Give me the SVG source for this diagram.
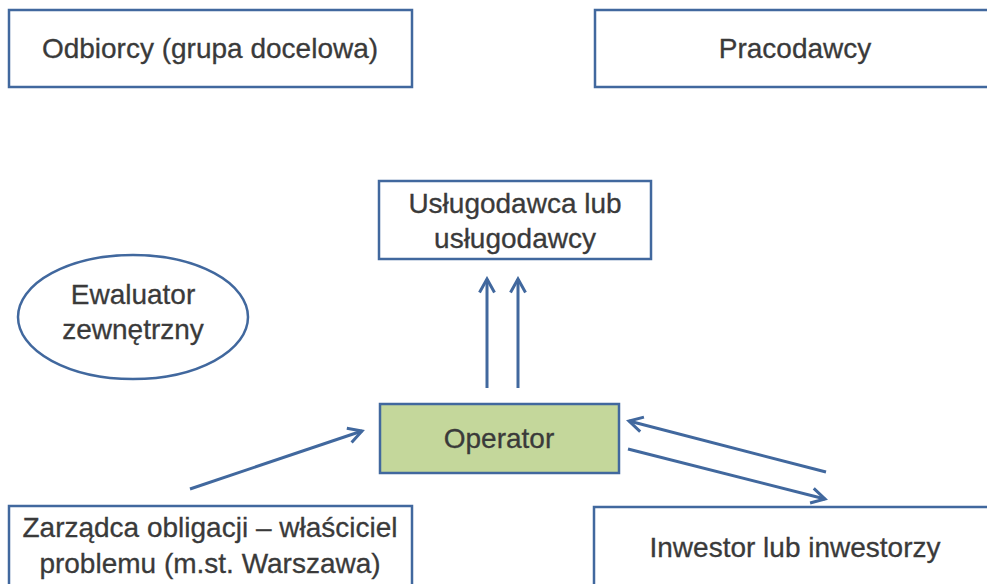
<svg xmlns="http://www.w3.org/2000/svg" width="987" height="584" viewBox="0 0 987 584">
  <defs>
    <style>
      .box { fill: #ffffff; stroke: #41689e; stroke-width: 2.5; }
      .op { fill: #c4d79b; stroke: #41689e; stroke-width: 2.5; }
      .lbl { font-family: "Liberation Sans", Arial, sans-serif; font-size: 28px; fill: #3a3a3a; text-anchor: middle; stroke: #3a3a3a; stroke-width: 0.3; }
      .conn { stroke: #41689e; stroke-width: 3; fill: none; marker-end: url(#arrow); }
    </style>
    <marker id="arrow" viewBox="0 0 12 12" refX="10" refY="6" markerWidth="6" markerHeight="6" markerUnits="strokeWidth" orient="auto">
      <path d="M1,1 L10,6 L1,11" fill="none" stroke="#41689e" stroke-width="2"/>
    </marker>
  </defs>
  <rect width="987" height="584" fill="#ffffff"/>

  <g id="odbiorcy">
    <rect class="box" x="9" y="10" width="403" height="77"/>
    <text class="lbl" x="210" y="58">Odbiorcy (grupa docelowa)</text>
  </g>
  <g id="pracodawcy">
    <rect class="box" x="595" y="10" width="400" height="77"/>
    <text class="lbl" x="795" y="58">Pracodawcy</text>
  </g>
  <g id="uslugodawca">
    <rect class="box" x="379" y="181" width="272" height="78"/>
    <text class="lbl" x="515" y="213">Usługodawca lub</text>
    <text class="lbl" x="515" y="248">usługodawcy</text>
  </g>
  <g id="ewaluator">
    <ellipse class="box" cx="133" cy="317" rx="115" ry="62"/>
    <text class="lbl" x="133" y="304">Ewaluator</text>
    <text class="lbl" x="133" y="339">zewnętrzny</text>
  </g>
  <g id="operator">
    <rect class="op" x="380" y="404" width="239" height="69"/>
    <text class="lbl" x="499" y="448">Operator</text>
  </g>
  <g id="zarzadca">
    <rect class="box" x="9" y="506" width="403" height="90"/>
    <text class="lbl" x="210" y="537">Zarządca obligacji – właściciel</text>
    <text class="lbl" x="210" y="573">problemu (m.st. Warszawa)</text>
  </g>
  <g id="inwestor">
    <rect class="box" x="594" y="507" width="400" height="90"/>
    <text class="lbl" x="795" y="557">Inwestor lub inwestorzy</text>
  </g>

  <g id="connectors">
    <line class="conn" x1="487" y1="388" x2="487" y2="279"/>
    <line class="conn" x1="518" y1="388" x2="518" y2="279"/>
    <line class="conn" x1="190" y1="489" x2="362" y2="431"/>
    <line class="conn" x1="826" y1="472" x2="629" y2="421"/>
    <line class="conn" x1="628" y1="449" x2="825" y2="499"/>
  </g>
</svg>
